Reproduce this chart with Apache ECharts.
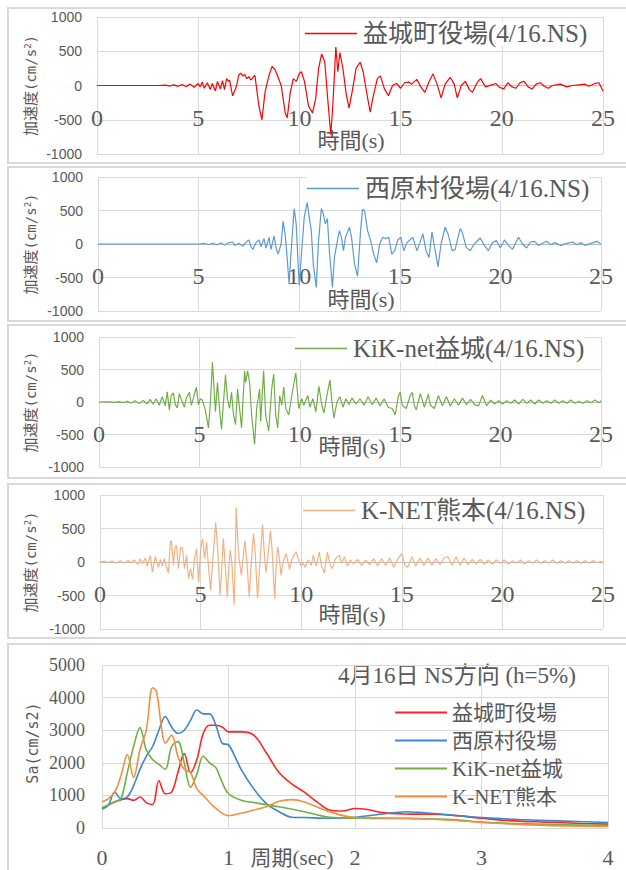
<!DOCTYPE html>
<html>
<head>
<meta charset="utf-8">
<script src="https://cdn.jsdelivr.net/npm/echarts@6/dist/echarts.min.js"></script>
<style>
html,body{margin:0;padding:0;background:#fff;}
#chart{width:626px;height:870px;}
</style>
</head>
<body>
<div id="chart"></div>
<script>
// ---- Data ----
const seriesNamesTime = ['益城町役場(4/16.NS)', '西原村役場(4/16.NS)', 'KiK-net益城(4/16.NS)', 'K-NET熊本(4/16.NS)'];
const seriesNamesSpec = ['益城町役場', '西原村役場', 'KiK-net益城', 'K-NET熊本'];

// acceleration time histories: [time (s), acceleration (cm/s2)]
const accMashikiTown = [[0,0],[3.0,0],[3.4,5],[3.6,-8],[3.8,10],[4.0,-12],[4.2,15],[4.4,-15],[4.6,20],[4.8,-25],[5.0,30],[5.1,-20],[5.2,50],[5.3,-40],[5.45,40],[5.6,-60],[5.7,30],[5.85,-80],[5.95,60],[6.1,-50],[6.2,70],[6.3,-60],[6.4,100],[6.5,60],[6.55,80],[6.7,-150],[6.8,-80],[6.9,0],[7.0,150],[7.1,180],[7.2,140],[7.3,160],[7.4,100],[7.5,130],[7.6,80],[7.8,150],[8.0,-300],[8.15,-500],[8.3,-100],[8.5,150],[8.65,280],[8.8,230],[8.95,120],[9.1,0],[9.3,-400],[9.4,-470],[9.55,-100],[9.7,100],[9.85,60],[10.0,180],[10.1,200],[10.25,60],[10.45,-300],[10.65,-400],[10.8,-200],[10.95,250],[11.1,460],[11.25,350],[11.4,-200],[11.55,-720],[11.65,-300],[11.8,560],[11.9,200],[12.0,480],[12.15,250],[12.3,-100],[12.45,-330],[12.6,-100],[12.8,250],[13.0,340],[13.15,200],[13.35,-150],[13.5,-390],[13.65,-150],[13.85,100],[14.0,140],[14.2,-50],[14.4,-150],[14.6,0],[14.8,30],[15.0,-40],[15.2,40],[15.4,50],[15.55,20],[15.8,90],[16.0,-20],[16.2,-100],[16.4,50],[16.6,170],[16.8,20],[17.0,-180],[17.2,20],[17.45,120],[17.65,20],[17.8,-180],[18.0,0],[18.2,60],[18.4,-60],[18.55,-100],[18.8,50],[18.95,100],[19.2,-20],[19.5,10],[19.7,30],[19.9,-30],[20.1,-50],[20.3,40],[20.5,-20],[20.7,-40],[20.9,40],[21.1,60],[21.3,-20],[21.5,-50],[21.7,20],[21.9,40],[22.1,-10],[22.3,-40],[22.5,0],[22.9,20],[23.2,-20],[23.5,0],[23.8,10],[24.1,20],[24.3,-10],[24.6,30],[24.8,40],[25.0,-80]];

const accNishihara = [[0,0],[5.0,0],[5.3,8],[5.5,-8],[5.7,10],[5.9,-12],[6.1,15],[6.3,-15],[6.5,20],[6.7,30],[6.8,-20],[7.0,10],[7.2,-30],[7.4,40],[7.5,60],[7.6,-40],[7.7,-80],[7.85,20],[8.0,60],[8.1,-40],[8.25,80],[8.35,-60],[8.5,100],[8.6,-80],[8.75,120],[8.85,-60],[8.95,-150],[9.1,0],[9.2,340],[9.3,150],[9.4,-200],[9.5,-600],[9.6,-100],[9.75,530],[9.85,300],[10.0,-620],[10.1,-200],[10.25,400],[10.4,620],[10.5,400],[10.6,200],[10.7,-300],[10.85,-650],[10.95,0],[11.1,530],[11.2,450],[11.3,300],[11.4,380],[11.5,-100],[11.65,-650],[11.75,-200],[11.9,50],[12.0,200],[12.1,100],[12.2,-100],[12.3,100],[12.5,250],[12.6,100],[12.75,-300],[12.9,-480],[13.05,200],[13.15,520],[13.25,500],[13.4,200],[13.55,50],[13.7,-150],[13.85,-280],[14.0,0],[14.15,100],[14.3,80],[14.45,100],[14.6,-150],[14.75,-100],[14.9,60],[15.05,100],[15.2,-100],[15.35,20],[15.5,60],[15.65,100],[15.85,-100],[16.0,20],[16.15,150],[16.3,-100],[16.45,-200],[16.6,180],[16.7,0],[16.9,-340],[17.05,0],[17.25,250],[17.4,150],[17.6,-100],[17.75,-80],[18.0,230],[18.1,180],[18.3,-50],[18.5,-100],[18.7,0],[19.0,90],[19.2,-20],[19.4,-100],[19.6,20],[19.8,50],[20.0,-60],[20.2,60],[20.4,-20],[20.6,-80],[20.9,100],[21.1,0],[21.3,-60],[21.5,30],[21.7,40],[21.9,-20],[22.1,10],[22.3,40],[22.5,-10],[22.7,20],[23.0,-20],[23.3,10],[23.6,30],[23.8,-10],[24.0,20],[24.2,-20],[24.5,10],[24.8,40],[25.0,0]];

const accKiknetMashiki = [[0,0],[0.5,2],[0.8,-5],[1.0,5],[1.2,-10],[1.4,12],[1.6,-15],[1.8,20],[2.0,-25],[2.2,25],[2.4,-30],[2.55,40],[2.7,-35],[2.85,50],[3.0,-50],[3.15,80],[3.3,-60],[3.4,155],[3.5,-120],[3.6,100],[3.7,140],[3.8,-40],[3.9,-90],[4.0,130],[4.1,40],[4.25,-80],[4.35,60],[4.5,150],[4.6,-50],[4.7,60],[4.85,230],[4.95,-40],[5.05,50],[5.15,30],[5.3,-130],[5.45,-400],[5.55,0],[5.65,610],[5.75,100],[5.8,-150],[5.9,300],[6.0,-100],[6.1,-420],[6.2,0],[6.3,420],[6.4,50],[6.5,-100],[6.6,150],[6.7,-200],[6.8,-350],[6.9,200],[7.0,-100],[7.1,-400],[7.25,480],[7.3,300],[7.4,480],[7.5,300],[7.6,-200],[7.75,-650],[7.85,-100],[8.0,200],[8.05,-300],[8.2,480],[8.3,-200],[8.45,-450],[8.6,200],[8.7,430],[8.8,-200],[8.9,-400],[9.0,100],[9.1,-50],[9.2,230],[9.3,-100],[9.45,-200],[9.6,100],[9.8,450],[9.95,-100],[10.1,50],[10.2,-50],[10.4,100],[10.5,-80],[10.65,50],[10.8,-150],[10.95,240],[11.1,-50],[11.2,-170],[11.35,100],[11.5,340],[11.6,0],[11.7,-250],[11.85,0],[12.0,80],[12.15,-80],[12.3,50],[12.45,-40],[12.6,60],[12.8,-30],[13.0,50],[13.2,-50],[13.4,80],[13.6,-40],[13.8,60],[14.0,-60],[14.2,50],[14.4,-80],[14.6,-100],[14.75,-200],[14.9,80],[15.0,150],[15.1,-50],[15.3,-100],[15.5,100],[15.6,150],[15.7,-50],[15.8,-120],[16.0,130],[16.2,-80],[16.4,120],[16.5,-50],[16.7,-100],[16.9,100],[17.1,-60],[17.3,80],[17.5,-60],[17.7,50],[17.9,-50],[18.1,60],[18.3,-40],[18.5,40],[18.7,-40],[18.9,-60],[19.1,100],[19.3,-60],[19.5,30],[19.7,-30],[19.9,20],[20.1,-30],[20.3,20],[20.5,-20],[20.7,30],[20.9,-30],[21.1,40],[21.3,-20],[21.5,30],[21.7,-30],[21.9,30],[22.1,-20],[22.3,20],[22.5,-20],[22.7,30],[22.9,-20],[23.1,20],[23.3,-20],[23.5,30],[23.7,-20],[23.9,10],[24.1,-20],[24.3,20],[24.5,-10],[24.7,30],[24.9,-10],[25.0,20]];

const accKnetKumamoto = [[0,0],[0.2,10],[0.4,-10],[0.6,15],[0.8,-15],[1.0,20],[1.2,-20],[1.4,25],[1.5,-10],[1.7,30],[1.9,-40],[2.0,50],[2.1,-30],[2.25,60],[2.35,-60],[2.5,100],[2.6,-150],[2.75,80],[2.9,-80],[3.0,40],[3.1,-60],[3.2,50],[3.3,-80],[3.4,-160],[3.5,300],[3.55,320],[3.65,-50],[3.72,200],[3.8,250],[3.9,-100],[4.0,220],[4.1,200],[4.2,-100],[4.3,100],[4.4,-250],[4.5,-100],[4.6,-260],[4.7,50],[4.8,200],[4.9,-300],[5.0,180],[5.1,350],[5.2,50],[5.3,300],[5.4,-100],[5.5,-420],[5.6,0],[5.75,590],[5.85,200],[5.97,-500],[6.05,-100],[6.13,350],[6.2,50],[6.33,-530],[6.4,-100],[6.47,180],[6.55,0],[6.67,-640],[6.77,810],[6.85,300],[6.92,30],[7.03,-200],[7.2,320],[7.3,0],[7.42,-520],[7.5,-100],[7.63,430],[7.7,200],[7.83,-540],[7.95,0],[8.08,560],[8.15,200],[8.25,-160],[8.35,100],[8.47,470],[8.55,200],[8.68,-550],[8.75,-100],[8.83,225],[8.9,100],[9.0,-200],[9.1,0],[9.25,130],[9.42,-110],[9.55,50],[9.75,155],[9.85,50],[10.0,-60],[10.1,-20],[10.2,-80],[10.35,30],[10.5,-50],[10.6,100],[10.75,-60],[10.9,150],[11.0,-50],[11.15,-170],[11.3,150],[11.45,-50],[11.55,-100],[11.7,50],[11.9,100],[12.0,-20],[12.15,80],[12.3,-60],[12.45,30],[12.6,-30],[12.8,40],[13.0,-50],[13.2,30],[13.4,-40],[13.6,50],[13.8,-60],[14.0,50],[14.2,-50],[14.4,60],[14.6,-80],[14.8,50],[15.0,120],[15.15,-50],[15.3,-80],[15.5,80],[15.7,-60],[15.9,60],[16.1,-50],[16.3,60],[16.5,-50],[16.7,50],[16.9,-40],[17.1,60],[17.3,80],[17.5,-50],[17.7,80],[17.9,-50],[18.1,60],[18.3,-40],[18.5,40],[18.7,-30],[18.9,40],[19.1,-30],[19.3,30],[19.5,-30],[19.7,30],[19.9,-20],[20.1,30],[20.3,-30],[20.5,20],[20.7,-20],[20.9,30],[21.1,-30],[21.3,20],[21.5,-20],[21.7,30],[21.9,-20],[22.1,20],[22.3,-20],[22.5,30],[22.7,-20],[22.9,20],[23.1,-20],[23.3,20],[23.5,-20],[23.7,20],[23.9,-20],[24.1,20],[24.3,-20],[24.5,20],[24.7,-10],[24.9,10],[25.0,-10]];

// response spectra: [period (sec), Sa (cm/s2)]
const saMashikiTown = [[0,600],[0.1,800],[0.2,900],[0.25,850],[0.3,950],[0.35,780],[0.4,720],[0.45,1450],[0.5,1050],[0.55,1100],[0.6,1700],[0.65,2280],[0.7,1700],[0.75,2100],[0.8,2900],[0.85,3150],[0.9,3150],[0.95,3100],[1.0,2950],[1.1,2950],[1.2,2850],[1.3,2300],[1.4,1700],[1.5,1350],[1.6,1100],[1.7,800],[1.8,550],[1.9,520],[2.0,600],[2.1,570],[2.2,480],[2.4,430],[2.6,420],[2.8,380],[3.0,300],[3.2,230],[3.5,180],[3.8,140],[4.0,120]];
const saNishihara = [[0,580],[0.05,700],[0.1,1100],[0.15,900],[0.2,950],[0.25,1300],[0.3,1800],[0.35,2200],[0.4,2500],[0.45,3000],[0.5,3420],[0.55,3100],[0.6,2900],[0.65,3000],[0.7,3300],[0.75,3620],[0.8,3500],[0.85,3500],[0.9,3150],[0.95,2600],[1.0,2550],[1.05,2200],[1.1,1800],[1.2,1200],[1.3,750],[1.4,500],[1.5,330],[1.6,320],[1.8,300],[2.0,330],[2.2,420],[2.4,500],[2.5,480],[2.7,420],[2.9,350],[3.0,320],[3.3,260],[3.6,220],[4.0,170]];
const saKiknetMashiki = [[0,620],[0.1,800],[0.15,900],[0.2,1700],[0.25,2500],[0.3,3080],[0.35,2400],[0.4,2100],[0.45,1950],[0.5,1800],[0.55,2500],[0.6,2650],[0.65,2000],[0.7,1250],[0.75,1650],[0.8,2200],[0.85,2000],[0.9,1850],[0.95,1400],[1.0,1050],[1.1,850],[1.2,780],[1.4,650],[1.6,500],[1.8,330],[2.0,300],[2.4,290],[2.8,250],[3.0,180],[3.5,110],[4.0,80]];
const saKnetKumamoto = [[0,800],[0.05,900],[0.1,1100],[0.15,1600],[0.2,2250],[0.25,1550],[0.3,2400],[0.35,3000],[0.4,4300],[0.43,4200],[0.47,3100],[0.5,2600],[0.55,2850],[0.6,2200],[0.65,1800],[0.7,1700],[0.75,1200],[0.8,1000],[0.9,600],[1.0,380],[1.1,450],[1.2,550],[1.3,650],[1.4,820],[1.5,870],[1.6,800],[1.8,500],[2.0,320],[2.4,300],[2.8,230],[3.0,170],[3.5,80],[4.0,50]];

const timeData = [accMashikiTown, accNishihara, accKiknetMashiki, accKnetKumamoto];
const specData = [saMashikiTown, saNishihara, saKiknetMashiki, saKnetKumamoto];

// ---- Layout / style ----
const timeColors = ['#FF0000', '#5B9BD5', '#70AD47', '#F4B183'];
const specColors = ['#FF2424', '#3A87CF', '#6FB043', '#F58E3D'];
const SERIF = "'Liberation Serif','Noto Sans CJK JP',serif";
const SANS = "'Liberation Sans','Noto Sans CJK JP',sans-serif";
const MONO = "'DejaVu Sans Mono',monospace";
const GRID_COLOR = '#D9D9D9';
const TXT = '#595959';
const plain = v => String(v);

const timeGrids = [
  {left: 97, width: 506, top: 17, height: 137},
  {left: 98, width: 503, top: 177, height: 134},
  {left: 99, width: 502, top: 337, height: 130},
  {left: 100, width: 503, top: 495, height: 134}
];
const specGrid = {left: 102, width: 506, top: 665, height: 163};
const legendPos = [
  {left: 305, cy: 33}, {left: 307, cy: 188}, {left: 295, cy: 348}, {left: 303, cy: 510}
];
const xTitlePos = [[351, 140], [361, 299], [352, 446], [352, 614]];
const panelRects = [[8, 8, 640, 155], [8, 167, 640, 154], [8, 325, 640, 153], [8, 484, 640, 154], [8, 644, 640, 240]];

const grids = [], xAxes = [], yAxes = [], series = [], legends = [], graphics = [];

timeGrids.forEach((g, i) => {
  grids.push(Object.assign({containLabel: false}, g));
  xAxes.push({
    type: 'value', gridIndex: i, min: 0, max: 25, interval: 5,
    position: 'bottom', offset: -g.height / 2,
    axisLine: {show: true, onZero: false, lineStyle: {color: '#BFBFBF', width: 1}},
    axisTick: {show: false},
    axisLabel: {fontFamily: SERIF, fontSize: 24, lineHeight: 22, color: TXT, margin: 21, formatter: plain},
    splitLine: {show: true, lineStyle: {color: GRID_COLOR, width: 1}}
  });
  yAxes.push({
    type: 'value', gridIndex: i, min: -1000, max: 1000, interval: 500,
    axisLine: {show: false}, axisTick: {show: false},
    axisLabel: {fontFamily: SANS, fontSize: 14, color: TXT, margin: 15, formatter: plain},
    splitLine: {show: true, lineStyle: {color: GRID_COLOR, width: 1}}
  });
  series.push({
    name: seriesNamesTime[i], type: 'line', xAxisIndex: i, yAxisIndex: i,
    data: timeData[i], symbol: 'none', showSymbol: false,
    lineStyle: {color: timeColors[i], width: 1.2}, itemStyle: {color: timeColors[i]},
    animation: false
  });
  legends.push({
    data: [seriesNamesTime[i]], left: legendPos[i].left, top: legendPos[i].cy - 12,
    icon: 'rect', itemWidth: 52, itemHeight: 1.5, itemGap: 0, padding: 0,
    backgroundColor: '#fff',
    textStyle: {fontFamily: SERIF, fontSize: 25, color: TXT, padding: [0, 0, 0, 1]}
  });
  graphics.push({
    type: 'text', x: xTitlePos[i][0], y: xTitlePos[i][1],
    style: {text: '時間(s)', font: "22px " + SERIF, fill: TXT, textAlign: 'center', textVerticalAlign: 'middle'}
  });
  graphics.push({
    type: 'text', x: 31, y: (g.top + g.height / 2), rotation: Math.PI / 2,
    style: {
      text: '{a|加速度}{b|(cm/s}{c|2}{b|)}', textAlign: 'center', textVerticalAlign: 'middle',
      rich: {
        a: {fontFamily: SERIF, fontSize: 15, fill: TXT, color: TXT},
        b: {fontFamily: MONO, fontSize: 14, fill: TXT, color: TXT},
        c: {fontFamily: MONO, fontSize: 9, fill: TXT, color: TXT, verticalAlign: 'top', padding: [0, 0, 6, 0]}
      }
    }
  });
});

// spectrum panel
grids.push(specGrid);
xAxes.push({
  type: 'value', gridIndex: 4, min: 0, max: 4, interval: 1,
  axisLine: {show: true, onZero: false, lineStyle: {color: GRID_COLOR}}, axisTick: {show: false},
  axisLabel: {fontFamily: SERIF, fontSize: 22, color: TXT, margin: 18, formatter: plain},
  splitLine: {show: true, lineStyle: {color: GRID_COLOR, width: 1}}
});
yAxes.push({
  type: 'value', gridIndex: 4, min: 0, max: 5000, interval: 1000,
  axisLine: {show: false}, axisTick: {show: false},
  axisLabel: {fontFamily: SERIF, fontSize: 18, color: TXT, margin: 17, formatter: plain},
  splitLine: {show: true, lineStyle: {color: GRID_COLOR, width: 1}}
});
specData.forEach((d, i) => {
  series.push({
    name: seriesNamesSpec[i], type: 'line', xAxisIndex: 4, yAxisIndex: 4,
    data: d, symbol: 'none', showSymbol: false, smooth: 0.35,
    lineStyle: {color: specColors[i], width: 1.6}, itemStyle: {color: specColors[i]},
    animation: false
  });
});
legends.push({
  data: seriesNamesSpec, orient: 'vertical', left: 395, top: 702,
  icon: 'rect', itemWidth: 52, itemHeight: 2, itemGap: 7, padding: 0,
  textStyle: {fontFamily: SERIF, fontSize: 21, lineHeight: 21, color: TXT}
});
graphics.push({
  type: 'text', x: 338, y: 675,
  style: {text: '4月16日 NS方向 (h=5%)', font: "23px " + SERIF, fill: TXT, textAlign: 'left', textVerticalAlign: 'middle'}
});
graphics.push({
  type: 'text', x: 292, y: 858,
  style: {text: '周期(sec)', font: "21px " + SERIF, fill: TXT, textAlign: 'center', textVerticalAlign: 'middle'}
});
graphics.push({
  type: 'text', x: 33, y: 743, rotation: Math.PI / 2,
  style: {text: 'Sa(cm/s2)', font: "15px " + MONO, fill: TXT, textAlign: 'center', textVerticalAlign: 'middle'}
});
panelRects.forEach(r => {
  graphics.push({
    type: 'rect', z: -10, silent: true,
    shape: {x: r[0], y: r[1], width: r[2], height: r[3]},
    style: {fill: 'none', stroke: GRID_COLOR, lineWidth: 2}
  });
});

const chart = echarts.init(document.getElementById('chart'), null, {renderer: 'svg'});
chart.setOption({
  animation: false,
  backgroundColor: '#fff',
  grid: grids, xAxis: xAxes, yAxis: yAxes, series: series, legend: legends, graphic: graphics
});
</script>
</body>
</html>
